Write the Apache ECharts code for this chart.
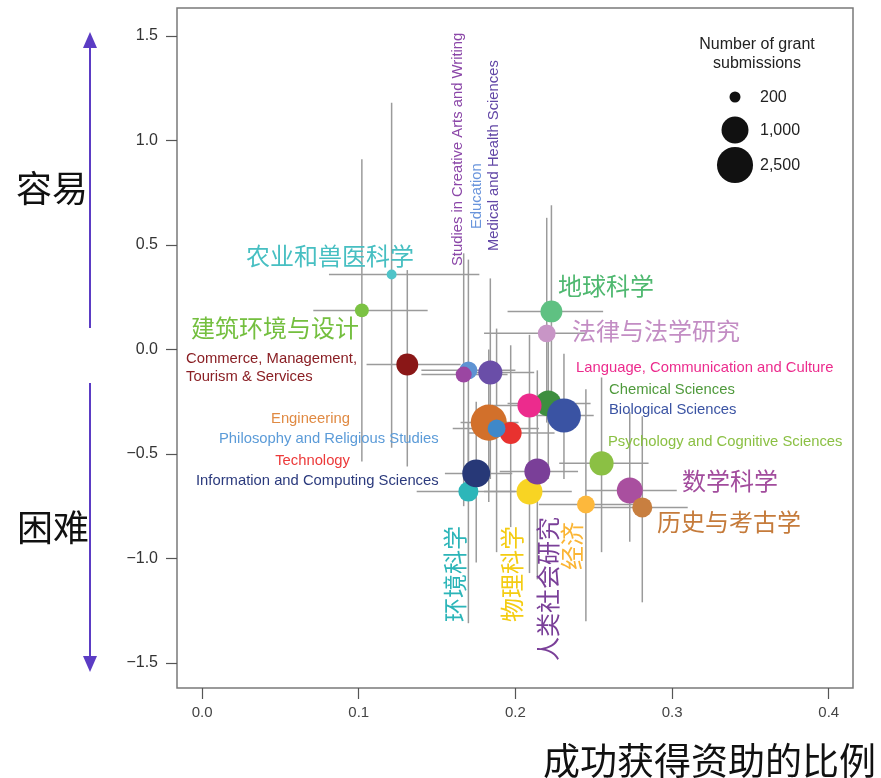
<!DOCTYPE html>
<html><head><meta charset="utf-8">
<script src="https://cdn.jsdelivr.net/npm/echarts@6/dist/echarts.min.js"></script>
<style>html,body{margin:0;padding:0;background:#fff}#c{width:881px;height:778px}</style>
</head><body><div id="c"></div>
<script>
// ---- data (ANZSRC field order) ----
const fields = ['Mathematical Sciences','Physical Sciences','Chemical Sciences','Earth Sciences','Environmental Sciences','Biological Sciences','Agricultural and Veterinary Sciences','Information and Computing Sciences','Engineering','Technology','Medical and Health Sciences','Built Environment and Design','Education','Economics','Commerce, Management, Tourism & Services','Studies in Human Society','Psychology and Cognitive Sciences','Law and Legal Studies','Studies in Creative Arts and Writing','Language, Communication and Culture','History and Archaeology','Philosophy and Religious Studies'];
const successRate = [0.273,0.209,0.221,0.223,0.170,0.231,0.121,0.175,0.183,0.197,0.184,0.102,0.170,0.245,0.131,0.214,0.255,0.220,0.167,0.209,0.281,0.188];
const ease        = [-0.675,-0.68,-0.258,0.182,-0.68,-0.316,0.359,-0.593,-0.35,-0.40,-0.11,0.187,-0.10,-0.742,-0.072,-0.584,-0.545,0.077,-0.12,-0.268,-0.756,-0.378];
const submissions = [900,900,900,600,500,2000,180,1100,2500,600,750,270,400,400,600,900,750,400,330,750,500,400];
const rateLow  = [0.245,0.180,0.195,0.195,0.137,0.213,0.081,0.155,0.165,0.170,0.162,0.071,0.140,0.215,0.105,0.190,0.228,0.180,0.140,0.185,0.250,0.160];
const rateHigh = [0.303,0.236,0.248,0.256,0.200,0.250,0.177,0.198,0.202,0.225,0.212,0.144,0.200,0.280,0.165,0.240,0.285,0.245,0.195,0.235,0.310,0.215];
const easeLow  = [-0.92,-1.07,-0.62,-0.30,-1.31,-0.62,-0.47,-1.02,-0.73,-0.85,-0.62,-0.536,-0.65,-1.30,-0.56,-1.10,-0.97,-0.35,-0.75,-0.62,-1.21,-0.97];
const easeHigh = [-0.30,-0.32,0.08,0.69,-0.35,-0.02,1.18,-0.25,0.00,0.02,0.34,0.91,0.43,-0.19,0.38,-0.10,-0.134,0.63,0.46,0.07,-0.32,0.10];
const xTicks = [0.0,0.1,0.2,0.3,0.4];
const yTicks = [-1.5,-1.0,-0.5,0.0,0.5,1.0,1.5];
const legendSizes = [200,1000,2500];
const legendLabels = ['200','1,000','2,500'];

// ---- styles ----
const pointColors = ['#a94f9f','#f8d423','#3d8e3f','#5fc182','#2db6b9','#3a53a3','#4fc4c9','#273877','#d2702b','#e8322f','#6a4ea8','#7bc243','#5f93d3','#fdb83c','#8a1717','#7a3f98','#8bc044','#c895c6','#9b46a2','#ec2b8d','#c87f40','#3f88c9'];
const sizeFn = n => 9.94 * Math.log(n) - 41.7;

const chart = echarts.init(document.getElementById('c'), null, {renderer:'canvas'});
const EN = '"Liberation Sans", Arial, sans-serif';
const CJK = '"Noto Sans CJK SC", sans-serif';
const fmt = v => v.toFixed(1).replace('-', '\u2212');
const ES = 14.8;

function txt(x, y, text, color, size, font, rot, align) {
  return {type:'text', x:x, y:y, rotation: rot || 0, silent:true, z:20,
    style:{text:text, fill:color, font: size + 'px ' + font, align: align || 'left', verticalAlign:'middle'}};
}

const graphics = [
  // labels
  txt(246, 256, '农业和兽医科学', '#47bfc2', 24, CJK),
  txt(558, 286, '地球科学', '#4fb870', 24, CJK),
  txt(191, 328, '建筑环境与设计', '#74bf3f', 24, CJK),
  txt(572, 331, '法律与法学研究', '#c38dc4', 24, CJK),
  txt(682, 481, '数学科学', '#a24c9d', 24, CJK),
  txt(657, 522, '历史与考古学', '#c57b3b', 24, CJK),
  txt(455, 622, '环境科学', '#2cb5b8', 24, CJK, Math.PI/2),
  txt(512, 622, '物理科学', '#f4cc12', 24, CJK, Math.PI/2),
  txt(548, 661, '人类社会研究', '#7a3f98', 24, CJK, Math.PI/2),
  txt(572, 570, '经济', '#fbb534', 24, CJK, Math.PI/2),
  txt(186, 359, 'Commerce, Management,', '#8a1f24', ES, EN),
  txt(186, 377, 'Tourism & Services', '#8a1f24', ES, EN),
  txt(350, 419, 'Engineering', '#e08a43', ES, EN, 0, 'right'),
  txt(219, 439, 'Philosophy and Religious Studies', '#5b9bd8', ES, EN),
  txt(350, 461, 'Technology', '#ec3a3a', ES, EN, 0, 'right'),
  txt(196, 481, 'Information and Computing Sciences', '#2b3a7d', ES, EN),
  txt(576, 368, 'Language, Communication and Culture', '#ec2b8d', ES, EN),
  txt(609, 390, 'Chemical Sciences', '#4f9a3c', ES, EN),
  txt(609, 410, 'Biological Sciences', '#3a53a3', ES, EN),
  txt(608, 442, 'Psychology and Cognitive Sciences', '#8bc044', ES, EN),
  txt(458, 266, 'Studies in Creative Arts and Writing', '#8b47a8', ES, EN, Math.PI/2),
  txt(477, 229, 'Education', '#6a95dc', ES, EN, Math.PI/2),
  txt(494, 251, 'Medical and Health Sciences', '#6247a6', ES, EN, Math.PI/2),
  // legend
  txt(757, 45, 'Number of grant', '#222', 16, EN, 0, 'center'),
  txt(757, 64, 'submissions', '#222', 16, EN, 0, 'center'),
  // big annotations
  txt(52, 188, '容易', '#111', 36, CJK, 0, 'center'),
  txt(53, 527, '困难', '#111', 36, CJK, 0, 'center'),
  txt(543, 761, '成功获得资助的比例', '#111', 37, CJK),
  // arrows
  {type:'line', silent:true, shape:{x1:90,y1:44,x2:90,y2:328}, style:{stroke:'#5b3cc4', lineWidth:2}},
  {type:'polygon', silent:true, shape:{points:[[90,32],[83,48],[97,48]]}, style:{fill:'#5b3cc4'}},
  {type:'line', silent:true, shape:{x1:90,y1:383,x2:90,y2:660}, style:{stroke:'#5b3cc4', lineWidth:2}},
  {type:'polygon', silent:true, shape:{points:[[90,672],[83,656],[97,656]]}, style:{fill:'#5b3cc4'}}
];
const legendY = [97, 130, 165];
legendSizes.forEach((n, i) => {
  graphics.push({type:'circle', silent:true, shape:{cx:735, cy:legendY[i], r:sizeFn(n)/2}, style:{fill:'#111'}});
  graphics.push(txt(760, legendY[i] + 1, legendLabels[i], '#222', 16, EN));
});

const option = {
  animation:false,
  backgroundColor:'#fff',
  grid:{left:177, right:28, top:8, bottom:90, show:true, borderColor:'#7a7a7a', borderWidth:1.5, backgroundColor:'transparent'},
  xAxis:{type:'value', min:-0.016, max:0.4155, splitLine:{show:false},
    axisLine:{show:false, onZero:false},
    axisTick:{show:true, length:11, customValues:xTicks, lineStyle:{color:'#555', width:1.2}},
    axisLabel:{customValues:xTicks, formatter:fmt, margin:17, color:'#444', fontSize:15, fontFamily:EN}},
  yAxis:{type:'value', min:-1.62, max:1.634, splitLine:{show:false},
    axisLine:{show:false, onZero:false},
    axisTick:{show:true, length:11, customValues:yTicks, lineStyle:{color:'#555', width:1.2}},
    axisLabel:{customValues:yTicks, formatter:fmt, margin:19, color:'#333', fontSize:16, fontFamily:EN}},
  series:[
    {type:'custom', silent:true, z:1, clip:false,
      renderItem:(params, api) => {
        const x = api.value(0), y = api.value(1);
        const a = api.coord([api.value(2), y]), b = api.coord([api.value(3), y]);
        const c = api.coord([x, api.value(4)]), d = api.coord([x, api.value(5)]);
        const st = {stroke:'#9b9b9b', lineWidth:1.5};
        return {type:'group', children:[
          {type:'line', shape:{x1:a[0],y1:a[1],x2:b[0],y2:b[1]}, style:st},
          {type:'line', shape:{x1:c[0],y1:c[1],x2:d[0],y2:d[1]}, style:st}
        ]};
      },
      data: fields.map((f,i) => [successRate[i], ease[i], rateLow[i], rateHigh[i], easeLow[i], easeHigh[i]])
    },
    {type:'scatter', z:5, silent:true,
      symbolSize:(v, p) => sizeFn(submissions[p.dataIndex]),
      data: fields.map((f,i) => ({name:f, value:[successRate[i], ease[i]], itemStyle:{color:pointColors[i], opacity:1}}))
    }
  ],
  graphic: graphics
};
chart.setOption(option);
</script></body></html>
